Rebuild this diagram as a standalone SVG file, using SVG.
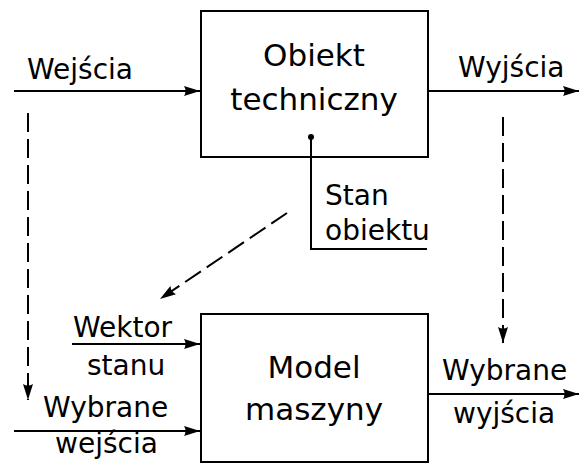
<svg xmlns="http://www.w3.org/2000/svg" width="581" height="468" viewBox="0 0 581 468">
  <style>
    .box { fill: #fff; stroke: #000; stroke-width: 2; }
    .ln { fill: none; stroke: #000; stroke-width: 2; }
    .dash { fill: none; stroke: #000; stroke-width: 2; stroke-dasharray: 19 7; }
    .lbl { font-family: "DejaVu Sans", sans-serif; font-size: 28px; fill: #000; }
    .big { font-family: "DejaVu Sans", sans-serif; font-size: 31px; fill: #000; text-anchor: middle; }
  </style>
  <defs>
    <marker id="arr" viewBox="0 0 16 10" refX="16" refY="5" markerWidth="16" markerHeight="10" markerUnits="userSpaceOnUse" orient="auto">
      <path d="M0,0 L16,5 L0,10 Q3,5 0,0 Z" fill="#000"/>
    </marker>
  </defs>

  <g id="obiekt">
    <rect class="box" x="201" y="11" width="227" height="146"/>
    <text class="big" x="314" y="66">Obiekt</text>
    <text class="big" x="314" y="110">techniczny</text>
  </g>

  <g id="model">
    <rect class="box" x="201" y="314" width="227" height="148"/>
    <text class="big" x="314" y="378">Model</text>
    <text class="big" x="314" y="420">maszyny</text>
  </g>

  <g id="labels">
    <text class="lbl" x="27" y="79">Wejścia</text>
    <text class="lbl" x="458" y="77">Wyjścia</text>
    <text class="lbl" x="325" y="205">Stan</text>
    <text class="lbl" x="325" y="240">obiektu</text>
    <text class="lbl" x="73" y="337">Wektor</text>
    <text class="lbl" x="87" y="375">stanu</text>
    <text class="lbl" x="43" y="417">Wybrane</text>
    <text class="lbl" x="55" y="453">wejścia</text>
    <text class="lbl" x="442" y="380">Wybrane</text>
    <text class="lbl" x="453" y="423">wyjścia</text>
  </g>

  <g id="connectors">
    <line class="ln" x1="14" y1="91" x2="200" y2="91" marker-end="url(#arr)"/>
    <line class="ln" x1="428" y1="91" x2="579" y2="91" marker-end="url(#arr)"/>
    <line class="ln" x1="72" y1="344" x2="200" y2="344" marker-end="url(#arr)"/>
    <line class="ln" x1="14" y1="431" x2="200" y2="431" marker-end="url(#arr)"/>
    <line class="ln" x1="428" y1="394" x2="579" y2="394" marker-end="url(#arr)"/>
    <circle cx="311" cy="137" r="3" fill="#000"/>
    <polyline class="ln" points="311,137 311,249 427,249"/>
    <line class="dash" x1="28" y1="113" x2="28" y2="400" marker-end="url(#arr)"/>
    <line class="dash" x1="503" y1="117" x2="503" y2="343" marker-end="url(#arr)"/>
    <line class="dash" x1="287" y1="213" x2="160" y2="299" marker-end="url(#arr)"/>
  </g>
</svg>
